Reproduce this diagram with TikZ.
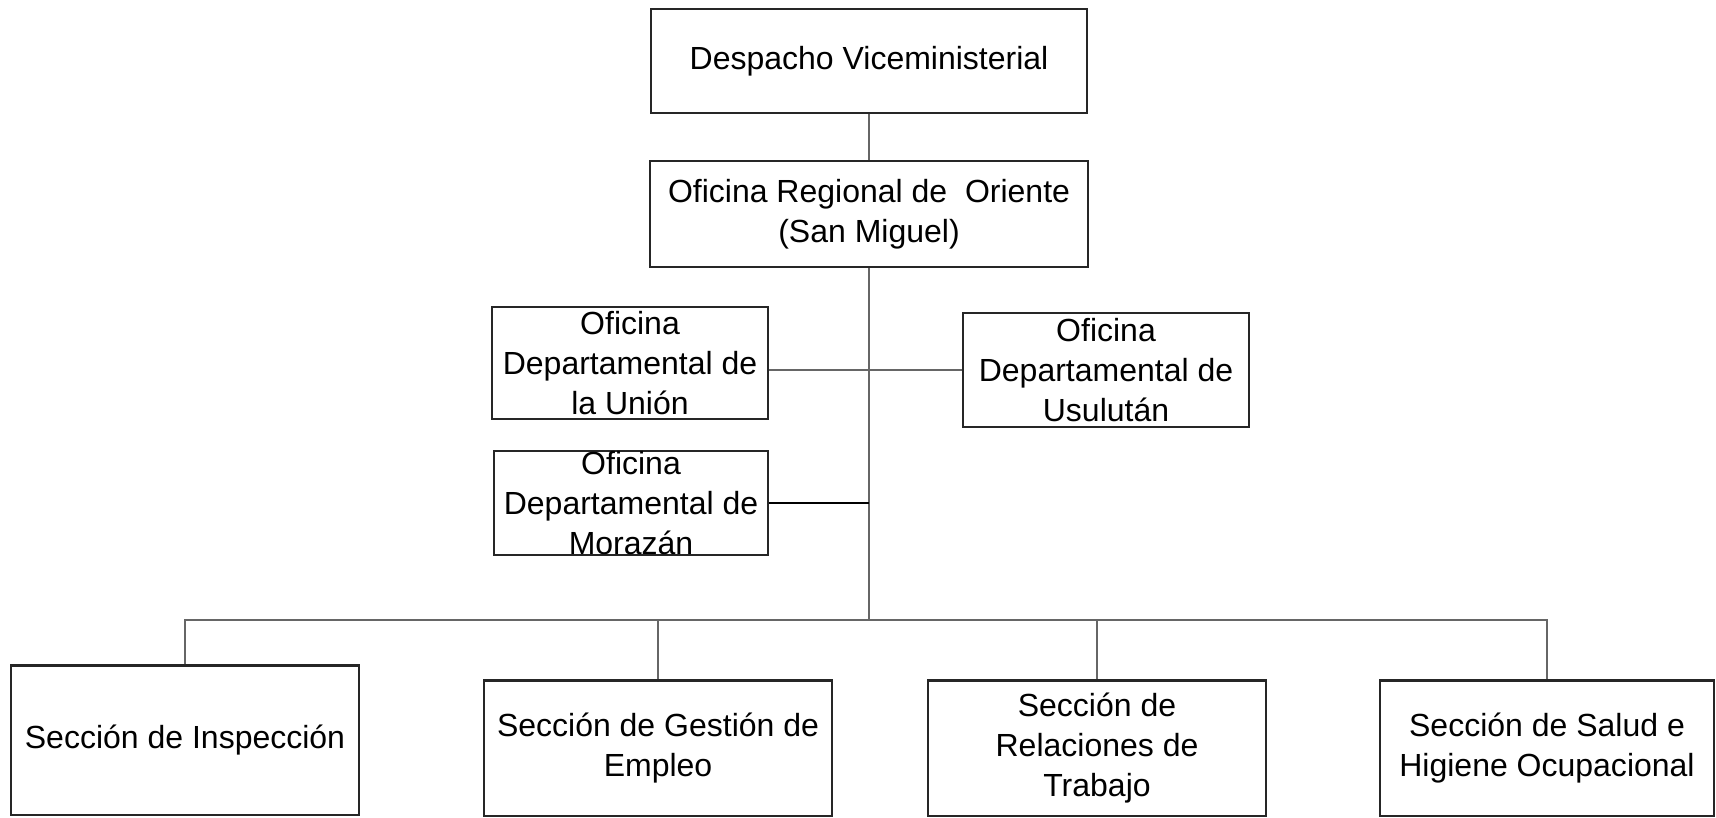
\documentclass[tikz,border=0pt]{standalone}
\usepackage{fontspec}
\setmainfont{Liberation Sans}
\usepackage{tikz}

\begin{document}
\begin{tikzpicture}[x=0.01cm,y=-0.01cm,
  box/.style={draw=black!85, line width=0.6pt, align=center, inner sep=0pt,
    font=\fontsize{9.1}{11.4}\selectfont},
  link/.style={draw=black!60, line width=0.4pt},
  heavylink/.style={draw=black, line width=0.8pt}]
\useasboundingbox (0,0) rectangle (1716,817);
\node[box, minimum width=4.36cm, minimum height=1.04cm] (despacho) at (869,61) {Despacho Viceministerial};
\node[box, minimum width=4.37cm, minimum height=1.06cm] (regional) at (869,214) {Oficina Regional de \ Oriente\\(San Miguel)};
\node[box, minimum width=2.75cm, minimum height=1.12cm] (union) at (630,363) {Oficina\\Departamental de\\la Unión};
\node[box, minimum width=2.85cm, minimum height=1.14cm] (usulutan) at (1106,370) {Oficina\\Departamental de\\Usulután};
\node[box, minimum width=2.73cm, minimum height=0.99cm] (morazan) at (631,503) {Oficina\\Departamental de\\Morazán};
\node[box, minimum width=3.48cm, minimum height=1.49cm] (inspeccion) at (185,740) {Sección de Inspección};
\node[box, minimum width=3.47cm, minimum height=1.35cm] (gestion) at (658,748) {Sección de Gestión de\\Empleo};
\node[box, minimum width=3.37cm, minimum height=1.35cm] (relaciones) at (1097,748) {Sección de\\Relaciones de\\Trabajo};
\node[box, minimum width=3.33cm, minimum height=1.35cm] (salud) at (1547,748) {Sección de Salud e\\Higiene Ocupacional};
\coordinate (bus) at (869,620);
\draw[link] (despacho) -- (regional);
\draw[link] (regional) -- (bus);
\draw[link] (union.east |- usulutan.west) -- (usulutan.west);
\draw[heavylink] (morazan.east) -- (morazan.east -| bus);
\foreach \sec in {inspeccion,gestion,relaciones,salud}
  \draw[link] (\sec.north) |- (bus);
\end{tikzpicture}
\end{document}
